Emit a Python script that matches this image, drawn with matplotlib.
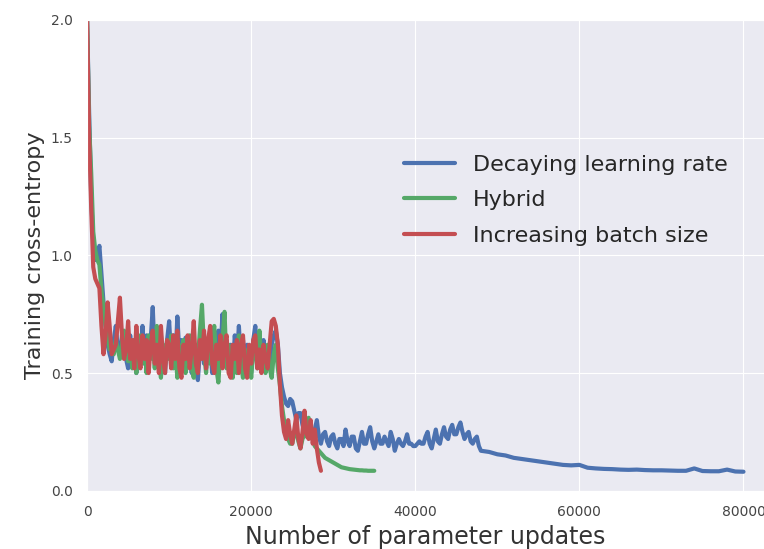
import matplotlib
matplotlib.use("Agg")
import matplotlib.pyplot as plt
import numpy as np
import seaborn as sns

# training loss, logged every 250 updates (every 1000 in the long blue tail)
decaying_lr_updates = np.concatenate([np.arange(0, 48001, 250),
                                      np.arange(49000, 80001, 1000)])
decaying_lr = [
    2.00, 1.60, 1.25, 1.05, 0.98, 1.00, 1.04, 0.92, 0.80, 0.70, 0.62, 0.58, 0.55, 0.64, 0.70, 0.60, 0.58, 0.66, 0.62, 0.56,
    0.52, 0.66, 0.55, 0.64, 0.50, 0.62, 0.56, 0.70, 0.54, 0.66, 0.58, 0.64, 0.78, 0.56, 0.62, 0.52, 0.66, 0.55, 0.50, 0.64,
    0.72, 0.56, 0.66, 0.54, 0.74, 0.58, 0.64, 0.52, 0.65, 0.55, 0.62, 0.50, 0.60, 0.52, 0.47, 0.60, 0.66, 0.54, 0.62, 0.56,
    0.62, 0.50, 0.64, 0.56, 0.68, 0.58, 0.75, 0.56, 0.64, 0.52, 0.62, 0.50, 0.66, 0.56, 0.70, 0.54, 0.64, 0.50, 0.62, 0.56,
    0.50, 0.64, 0.70, 0.56, 0.62, 0.52, 0.64, 0.55, 0.60, 0.52, 0.62, 0.66, 0.68, 0.62, 0.50, 0.44, 0.40, 0.37, 0.36, 0.39,
    0.38, 0.34, 0.30, 0.33, 0.33, 0.28, 0.25, 0.29, 0.28, 0.24, 0.22, 0.26, 0.30, 0.23, 0.20, 0.24, 0.25, 0.21, 0.19, 0.23,
    0.24, 0.20, 0.18, 0.22, 0.22, 0.19, 0.26, 0.21, 0.19, 0.23, 0.23, 0.18, 0.17, 0.21, 0.25, 0.20, 0.20, 0.24, 0.27, 0.21,
    0.18, 0.21, 0.24, 0.20, 0.20, 0.23, 0.21, 0.19, 0.25, 0.22, 0.17, 0.20, 0.22, 0.20, 0.19, 0.21, 0.24, 0.20, 0.20, 0.19,
    0.19, 0.20, 0.21, 0.20, 0.20, 0.23, 0.25, 0.20, 0.18, 0.22, 0.26, 0.21, 0.20, 0.24, 0.27, 0.23, 0.22, 0.26, 0.28, 0.24,
    0.24, 0.27, 0.29, 0.25, 0.22, 0.24, 0.25, 0.21, 0.20, 0.22, 0.23, 0.19, 0.17,
    0.165, 0.155, 0.15, 0.14, 0.135, 0.13, 0.125, 0.12, 0.115, 0.11, 0.108,
    0.11, 0.098, 0.095, 0.093, 0.092, 0.09, 0.089, 0.09, 0.088, 0.087,
    0.087, 0.086, 0.085, 0.085, 0.095, 0.084, 0.083, 0.083, 0.09, 0.082, 0.081,
]

hybrid_updates = np.arange(0, 35001, 250)
hybrid = [
    2.00, 1.55, 1.35, 1.10, 1.02, 0.98, 0.96, 0.85, 0.78, 0.70, 0.66, 0.60, 0.62, 0.58, 0.64, 0.60, 0.56, 0.62, 0.68, 0.60,
    0.55, 0.64, 0.52, 0.62, 0.50, 0.60, 0.66, 0.54, 0.62, 0.50, 0.66, 0.56, 0.64, 0.52, 0.70, 0.56, 0.48, 0.62, 0.54, 0.64,
    0.56, 0.66, 0.52, 0.60, 0.48, 0.62, 0.54, 0.64, 0.50, 0.60, 0.66, 0.52, 0.48, 0.62, 0.56, 0.68, 0.79, 0.60, 0.50, 0.62,
    0.54, 0.66, 0.70, 0.52, 0.46, 0.60, 0.64, 0.76, 0.52, 0.62, 0.54, 0.48, 0.60, 0.50, 0.66, 0.54, 0.48, 0.60, 0.52, 0.58,
    0.48, 0.60, 0.62, 0.52, 0.68, 0.54, 0.60, 0.50, 0.62, 0.52, 0.48, 0.58, 0.62, 0.52, 0.45, 0.36, 0.30, 0.25, 0.22, 0.20,
    0.20, 0.24, 0.26, 0.21, 0.18, 0.22, 0.24, 0.23, 0.31, 0.24, 0.22, 0.19, 0.18, 0.17, 0.16, 0.15, 0.14, 0.135, 0.13, 0.125,
    0.12, 0.115, 0.11, 0.105, 0.10, 0.098, 0.096, 0.094, 0.092, 0.091, 0.09, 0.089, 0.088, 0.087, 0.087, 0.086, 0.086, 0.085, 0.085, 0.085,
    0.085,
]

increasing_batch_updates = np.arange(0, 28501, 250)
increasing_batch = [
    2.00, 1.50, 1.20, 0.95, 0.90, 0.88, 0.86, 0.70, 0.58, 0.66, 0.80, 0.70, 0.58, 0.60, 0.62, 0.72, 0.82, 0.66, 0.56, 0.60,
    0.72, 0.56, 0.64, 0.52, 0.70, 0.58, 0.52, 0.66, 0.56, 0.64, 0.50, 0.62, 0.68, 0.54, 0.62, 0.50, 0.70, 0.56, 0.50, 0.64,
    0.62, 0.52, 0.66, 0.56, 0.68, 0.52, 0.48, 0.62, 0.56, 0.66, 0.52, 0.60, 0.72, 0.54, 0.50, 0.64, 0.56, 0.68, 0.52, 0.64,
    0.70, 0.54, 0.50, 0.62, 0.56, 0.66, 0.52, 0.62, 0.66, 0.50, 0.48, 0.62, 0.56, 0.64, 0.50, 0.62, 0.66, 0.52, 0.48, 0.62,
    0.54, 0.64, 0.66, 0.52, 0.60, 0.50, 0.62, 0.56, 0.52, 0.62, 0.72, 0.73, 0.70, 0.62, 0.45, 0.32, 0.25, 0.22, 0.30, 0.24,
    0.20, 0.26, 0.32, 0.22, 0.18, 0.25, 0.34, 0.24, 0.22, 0.30, 0.20, 0.26, 0.18, 0.12, 0.085,
]

series = [
    ("Decaying learning rate", decaying_lr_updates, decaying_lr, "#4C72B0"),
    ("Hybrid", hybrid_updates, hybrid, "#55A868"),
    ("Increasing batch size", increasing_batch_updates, increasing_batch, "#C44E52"),
]

sns.set_style("darkgrid")
plt.rcParams["font.family"] = ["DejaVu Sans"]

fig = plt.figure(figsize=(7.64, 5.49), dpi=100)
ax = fig.add_axes([0.114, 0.106, 0.886, 0.858])

for label, updates, loss, color in series:
    ax.plot(updates, loss, color=color, lw=3, label=label)

ax.set_xlim(0, 82500)
ax.set_ylim(0, 2.0)
ax.set_xticks([0, 20000, 40000, 60000, 80000])
ax.set_yticks([0.0, 0.5, 1.0, 1.5, 2.0])
ax.tick_params(labelsize=10, colors="#444444", pad=7)

ax.set_xlabel("Number of parameter updates", fontsize=17, color="#333333")
ax.set_ylabel("Training cross-entropy", fontsize=16, color="#333333")

ax.legend(loc="upper left", bbox_to_anchor=(0.503, 0.755),
          bbox_transform=fig.transFigure, fontsize=16, frameon=False,
          handlelength=2.3, handletextpad=0.8, labelspacing=0.7)

fig.savefig("out.png", dpi=100)
